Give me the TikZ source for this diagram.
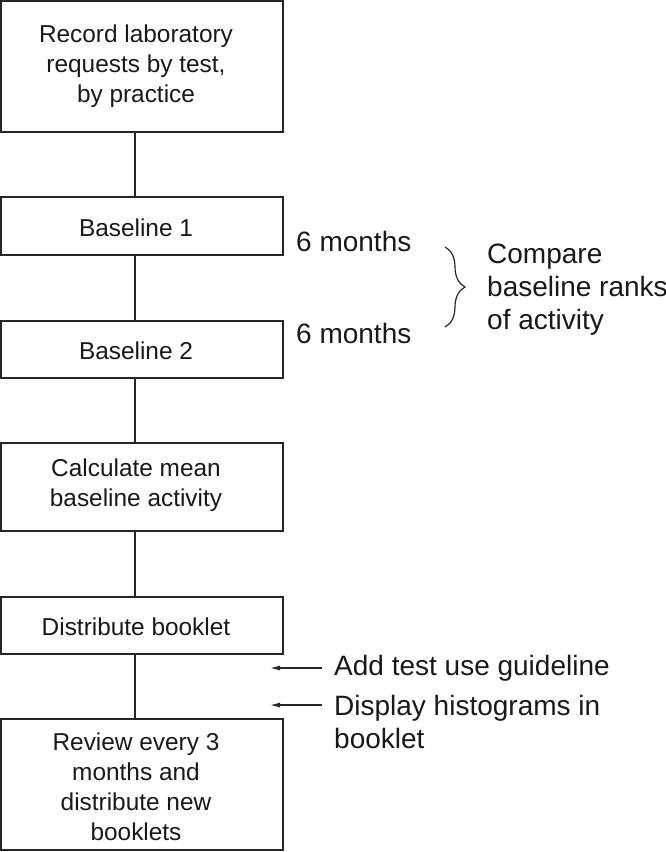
\documentclass[tikz,border=0pt]{standalone}
\usepackage{fontspec}
\setmainfont{Liberation Sans}
\usetikzlibrary{arrows.meta,decorations.pathreplacing}
\begin{document}
\begin{tikzpicture}[x=1pt,y=-1pt,
  box/.style={draw=black!85, line width=1.3pt, minimum width=282pt, inner sep=0pt},
  btext/.style={font=\fontsize{24.4}{30}\selectfont, align=center, inner sep=0pt, text=black!90},
  rtext/.style={font=\fontsize{28}{33}\selectfont, align=left, inner sep=0pt, anchor=west, text=black!90},
  link/.style={draw=black!85, line width=1.3pt},
  arr/.style={link, line width=1.2pt, -{Latex[length=10pt,width=5pt]}}]
\useasboundingbox (0,0) rectangle (666,852);

% boxes
\node[box, minimum height=131pt] (b1) at (142,66.5) {};
\node[box, minimum height=58pt]  (b2) at (142,226) {};
\node[box, minimum height=57pt]  (b3) at (142,349.5) {};
\node[box, minimum height=88pt]  (b4) at (142,487) {};
\node[box, minimum height=57pt]  (b5) at (142,625.5) {};
\node[box, minimum height=131pt] (b6) at (142,784.5) {};

% box texts
\node[btext] (t1) at (136,66.5) {Record laboratory\\requests by test,\\by practice};
\node[btext] (t2) at (136,228) {Baseline 1};
\node[btext] (t3) at (136,351) {Baseline 2};
\node[btext] (t4) at (136,485) {Calculate mean\\baseline activity};
\node[btext] (t5) at (136,627) {Distribute booklet};
\node[btext] (t6) at (136,787) {Review every 3\\months and\\distribute new\\booklets};

% connectors
\draw[link] (b1.south -| 135,0) -- (b2.north -| 135,0);
\draw[link] (b2.south -| 135,0) -- (b3.north -| 135,0);
\draw[link] (b3.south -| 135,0) -- (b4.north -| 135,0);
\draw[link] (b4.south -| 135,0) -- (b5.north -| 135,0);
\draw[link] (b5.south -| 135,0) -- (b6.north -| 135,0);

% right-hand texts
\node[rtext] (m1) at (296,241) {6 months};
\node[rtext] (m2) at (296,333) {6 months};
\node[rtext] (cmp) at (487,290) {Compare\\baseline ranks\\of activity};
\coordinate (brtop) at (445,247);
\coordinate (brbot) at (445,327);
\draw[line width=1.2pt, draw=black!85, decorate, decoration={brace, amplitude=20pt}] (brtop) -- (brbot);

\node[rtext] (a1) at (334,668) {Add test use guideline};
\node[rtext] (a2) at (334,721.5) {Display histograms in\\booklet};
\coordinate (p1) at (270,668);
\coordinate (p2) at (270,705);
\draw[arr, shorten <=12pt] (a1.west) -- (p1);
\draw[arr, shorten <=12pt] (a1.west |- p2) -- (p2);
\end{tikzpicture}
\end{document}
